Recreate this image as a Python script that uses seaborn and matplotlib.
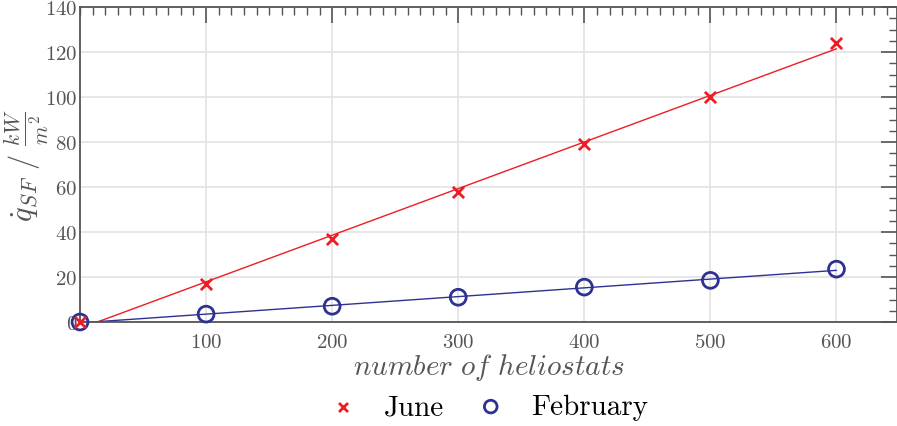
import matplotlib
matplotlib.use("Agg")
import matplotlib.pyplot as plt
import seaborn as sns
import numpy as np
import pandas as pd
from matplotlib.ticker import MultipleLocator, FixedLocator

heliostats = [0, 100, 200, 300, 400, 500, 600]
june = [0, 17, 37, 58, 79, 100, 124]
february = [0, 3.5, 7, 11, 15.5, 18.5, 23.5]
x_ticks = [100, 200, 300, 400, 500, 600]
y_ticks = [0, 20, 40, 60, 80, 100, 120, 140]

sns.set_style("white")
plt.rcParams['font.family'] = ['serif']
plt.rcParams['font.serif'] = ['cmr10', 'DejaVu Serif']
plt.rcParams['mathtext.fontset'] = 'cm'
plt.rcParams['axes.formatter.use_mathtext'] = True

df = pd.DataFrame({"n": heliostats, "June": june, "February": february})

fig = plt.figure(figsize=(8.97, 4.27), dpi=100)
ax = fig.add_axes([80/897, 1-323/427, 1.0-80/897, (323-8)/427])

red = "#ee1c25"
navy = "#2e3192"
gray = "#555555"

sns.regplot(data=df, x="n", y="June", ax=ax, ci=None, truncate=True,
            scatter=False, line_kws=dict(color=red, lw=1.0))
sns.regplot(data=df, x="n", y="February", ax=ax, ci=None, truncate=True,
            scatter=False, line_kws=dict(color=navy, lw=1.0))
ax.scatter(heliostats, june, marker='x', s=65, color=red, linewidths=2.0,
           clip_on=False, zorder=5, label="June")
ax.scatter(heliostats, february, marker='o', s=130, facecolors='none',
           edgecolors=navy, linewidths=2.0, clip_on=False, zorder=4, label="February")

ax.set_xlim(0, 648)
ax.set_ylim(0, 140)
ax.xaxis.set_major_locator(FixedLocator(x_ticks))
ax.yaxis.set_major_locator(FixedLocator(y_ticks))
ax.xaxis.set_minor_locator(MultipleLocator(10))
ax.yaxis.set_minor_locator(MultipleLocator(5))
ax.tick_params(which='both', direction='in', top=True, right=True, colors=gray,
               labelcolor=gray, labelsize=15)
ax.tick_params(which='major', length=11.5, width=1.2)
ax.tick_params(which='minor', length=5.8, width=1.0)
ax.tick_params(axis='x', pad=8)
ax.tick_params(axis='y', pad=2)
ax.grid(True, which='major', color='#e3e3e3', lw=1.2)
ax.set_axisbelow(True)
for s in ax.spines.values():
    s.set_color(gray)
    s.set_linewidth(1.3)

ax.set_xlabel(r"$number\ of\ heliostats$", fontsize=21, color=gray, labelpad=0)
ax.set_ylabel(r"$\dot{q}_{SF}\ /\ \frac{kW}{m^2}$", fontsize=22, color=gray)
ax.yaxis.set_label_coords(-0.036, 0.5)

leg = ax.legend(loc='center', bbox_to_anchor=(0.50, -0.27), ncol=2, frameon=False,
                fontsize=21, handlelength=1.0, handletextpad=0.9, columnspacing=1.1,
                markerscale=0.8)
for t in leg.get_texts():
    t.set_color('black')

fig.savefig("out.png", dpi=100)
